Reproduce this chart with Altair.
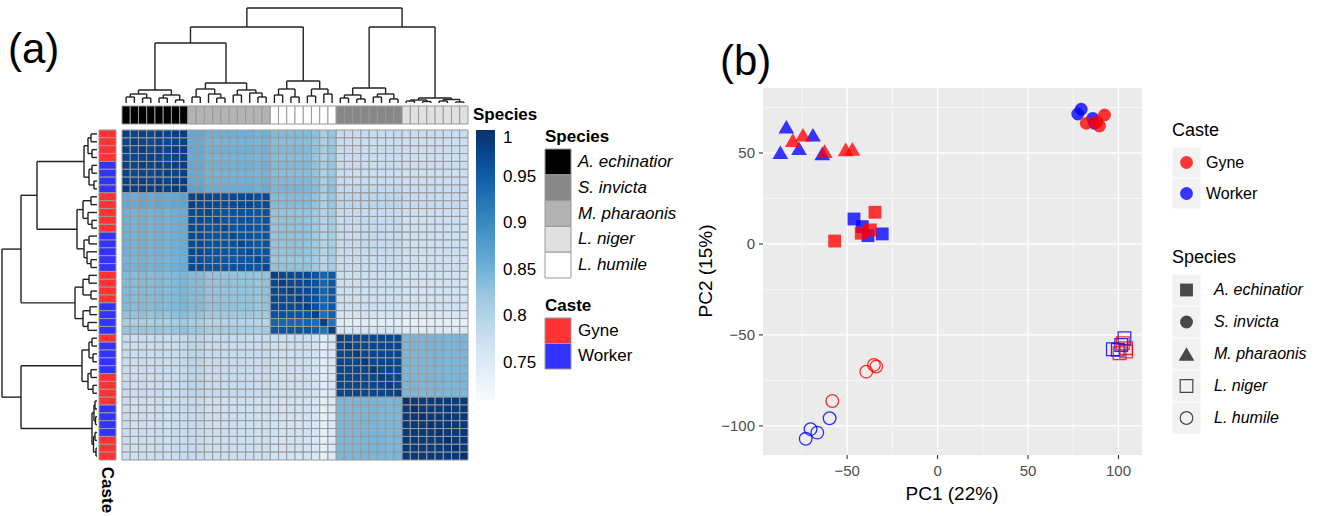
import altair as alt
import pandas as pd

FONT = "Liberation Sans"

# ---------------- data : panel (a) ----------------
SPECIES_ORDER = ["A. echinatior", "M. pharaonis", "L. humile", "S. invicta", "L. niger"]
SPECIES_N = [8, 10, 8, 8, 8]
CASTE_ROWS = [
    "Gyne", "Gyne", "Gyne", "Gyne", "Worker", "Worker", "Worker", "Worker",
    "Gyne", "Gyne", "Gyne", "Gyne", "Gyne", "Worker", "Worker", "Worker", "Worker", "Worker",
    "Gyne", "Gyne", "Gyne", "Gyne", "Worker", "Worker", "Worker", "Worker",
    "Gyne", "Worker", "Worker", "Worker", "Worker", "Gyne", "Gyne", "Gyne",
    "Gyne", "Worker", "Worker", "Worker", "Worker", "Gyne", "Gyne", "Gyne",
]
# mean correlation between species blocks (order = SPECIES_ORDER)
BLOCK_CORR = [
    [0.972, 0.848, 0.835, 0.775, 0.770],
    [0.848, 0.962, 0.828, 0.782, 0.772],
    [0.835, 0.828, 0.972, 0.772, 0.765],
    [0.775, 0.782, 0.772, 0.975, 0.845],
    [0.770, 0.772, 0.765, 0.845, 0.990],
]
# self-correlation on the diagonal is slightly darker than its block
DIAG_BONUS = 0.012
# per-sample deviation
SAMPLE_DEV = [
    0.005, 0.0, 0.005, 0.0, 0.005, 0.0, 0.005, 0.01,
    0.01, 0.01, 0.0, 0.0, 0.0, 0.0, 0.0, 0.0, -0.005, 0.0,
    0.0, 0.0, 0.0, 0.0, 0.0, -0.01, -0.03, -0.015,
    0.0, 0.0, 0.0, 0.0, 0.0, 0.0, 0.0, 0.0,
    0.0, 0.0, 0.0, 0.0, 0.0, 0.0, 0.0, 0.0,
]
# dendrogram: (height, left, right); leaves are sample indices
AE_T = (13, (9, (6, 0, 1), (5, 2, 3)), (8, (5, 4, 5), (3, 6, 7)))
MP_T = (20, (14, (6, 8, 9), (9, 10, (5, 11, 12))), (13, (8, 13, 14), (10, 15, (6, 16, 17))))
LH_T = (22, (14, (8, 18, 19), (6, 20, 21)), (14, (7, 22, 23), (9, 24, 25)))
SI_T = (15, (8, (5, 26, 27), (4, 28, 29)), (9, (6, 30, 31), (4, 32, 33)))
LN_T = (5, (3, (2, 34, 35), (1.5, 36, 37)), (3.5, (2, 38, 39), (1, 40, 41)))
TREE = (95, (76, (60, AE_T, MP_T), LH_T), (76, SI_T, LN_T))

LEG_SPECIES = ["A. echinatior", "S. invicta", "M. pharaonis", "L. niger", "L. humile"]
LEG_GREYS = ["#000000", "#878787", "#b3b3b3", "#e0e0e0", "#ffffff"]
CASTES = ["Gyne", "Worker"]
CASTE_FILL = ["#ff3333", "#3333ff"]
BLUES = ["#f7fbff", "#deebf7", "#c6dbef", "#9ecae1", "#6baed6",
         "#4292c6", "#2171b5", "#08519c", "#08306b"]
CBAR_TICKS = [0.75, 0.8, 0.85, 0.9, 0.95, 1.0]

# ---------------- data : panel (b) ----------------
PC1 = [-46.2, -41.6, -38.5, -30.6, -34.6, -42.2, -37.2, -56.9,
       77.5, 79.4, 85.8, 86.7, 82.2, 89.5, 92.3, 88.0,
       -83.6, -86.9, -76.6, -68.9, -63.7, -80.0, -74.4, -62.4, -50.8, -47.1,
       96.9, 103.3, 99.6, 101.5, 104.2, 102.4, 104.2, 100.6,
       -59.7, -70.2, -66.5, -72.9, -39.4, -35.2, -33.9, -58.2]
PC2 = [13.7, 9.5, 4.6, 5.5, 17.4, 5.9, 7.7, 1.6,
       71.4, 74.0, 69.0, 66.3, 66.3, 64.8, 70.9, 67.2,
       64.4, 50.4, 52.6, 60.0, 49.8, 57.0, 60.0, 51.0, 52.0, 52.2,
       -57.9, -51.8, -58.2, -55.5, -57.3, -54.6, -59.2, -60.1,
       -95.8, -101.8, -103.7, -107.1, -70.2, -66.5, -67.4, -86.3]
PCA_SPECIES = (["A. echinatior"] * 8 + ["S. invicta"] * 8 + ["M. pharaonis"] * 10
               + ["L. niger"] * 8 + ["L. humile"] * 8)
PCA_CASTE = (["Worker"] * 4 + ["Gyne"] * 4 + ["Worker"] * 4 + ["Gyne"] * 4
             + ["Worker"] * 5 + ["Gyne"] * 5 + ["Worker"] * 4 + ["Gyne"] * 4
             + ["Worker"] * 4 + ["Gyne"] * 4)
X_MAJOR = [-50, 0, 50, 100]
X_LABELS = ["\u221250", "0", "50", "100"]
X_MINOR = [-75, -25, 25, 75]
Y_MAJOR = [-100, -50, 0, 50]
Y_LABELS = ["\u2212100", "\u221250", "0", "50"]
Y_MINOR = [-75, -25, 25, 75]

# ---------------- derived tables ----------------
sample_species = []
for s, n in zip(SPECIES_ORDER, SPECIES_N):
    sample_species += [s] * n
NS = len(sample_species)
sp_idx = [SPECIES_ORDER.index(s) for s in sample_species]

cells = []
for i in range(NS):
    for j in range(NS):
        v = BLOCK_CORR[sp_idx[i]][sp_idx[j]] + SAMPLE_DEV[i] + SAMPLE_DEV[j]
        if i == j:
            v = min(1.0, BLOCK_CORR[sp_idx[i]][sp_idx[j]] + DIAG_BONUS)
        cells.append({"r0": i, "r1": i + 1, "c0": j, "c1": j + 1, "value": v})
heat_df = pd.DataFrame(cells)

samples_df = pd.DataFrame({
    "i0": list(range(NS)), "i1": [k + 1 for k in range(NS)],
    "species": sample_species, "caste": CASTE_ROWS,
})


def walk(node, segs):
    if isinstance(node, int):
        return node + 0.5, 0.0
    h, a, b = node
    pa, ha = walk(a, segs)
    pb, hb = walk(b, segs)
    segs.append({"p1": pa, "p2": pa, "h1": ha, "h2": h})
    segs.append({"p1": pb, "p2": pb, "h1": hb, "h2": h})
    segs.append({"p1": pa, "p2": pb, "h1": h, "h2": h})
    return (pa + pb) / 2, h


segs = []
walk(TREE, segs)
dendro_df = pd.DataFrame(segs)

pca_df = pd.DataFrame({"pc1": PC1, "pc2": PC2, "species": PCA_SPECIES, "caste": PCA_CASTE})

# ---------------- scales ----------------
COLS = alt.Scale(domain=[0, NS], range=[122, 468], nice=False, zero=False)
ROWS = alt.Scale(domain=[0, NS], range=[130, 460], nice=False, zero=False)
HT_TOP = alt.Scale(domain=[0, 95], range=[103, 8], nice=False, zero=False)
HT_LEFT = alt.Scale(domain=[0, 95], range=[97, 2], nice=False, zero=False)
lo, hi = 0.71, 1.0
blue_dom = [lo + k * (hi - lo) / (len(BLUES) - 1) for k in range(len(BLUES))]
BLUE_S = alt.Scale(domain=blue_dom, range=BLUES, interpolate="rgb")
GREY_S = alt.Scale(domain=LEG_SPECIES, range=LEG_GREYS)
CASTE_S = alt.Scale(domain=CASTES, range=CASTE_FILL)


def txt(text, x, y, size=17, weight="normal", style="normal", align="left", angle=0,
        color="black", baseline="middle"):
    return alt.Chart(alt.Data(values=[{"t": text}])).mark_text(
        font=FONT, fontSize=size, fontWeight=weight, fontStyle=style, align=align,
        baseline=baseline, angle=angle, color=color
    ).encode(text="t:N", x=alt.value(x), y=alt.value(y))


heat = alt.Chart(heat_df).mark_rect(stroke="#999999", strokeWidth=1).encode(
    x=alt.X("c0:Q", scale=COLS, axis=None), x2="c1:Q",
    y=alt.Y("r0:Q", scale=ROWS, axis=None), y2="r1:Q",
    color=alt.Color("value:Q", scale=BLUE_S, legend=alt.Legend(
        orient="none", legendX=476, legendY=130, direction="vertical",
        gradientLength=270, gradientThickness=19, gradientStrokeWidth=0,
        values=CBAR_TICKS, format=".2~f", labelFont=FONT, labelFontSize=17,
        labelColor="black", labelOffset=8, labelOverlap=False, title=None)),
)

species_bar = alt.Chart(samples_df).mark_rect(stroke="#999999", strokeWidth=1).encode(
    x=alt.X("i0:Q", scale=COLS, axis=None), x2="i1:Q",
    y=alt.value(106), y2=alt.value(124),
    color=alt.Color("species:N", scale=GREY_S, legend=None),
)
caste_bar = alt.Chart(samples_df).mark_rect(stroke="#999999", strokeWidth=1).encode(
    y=alt.Y("i0:Q", scale=ROWS, axis=None), y2="i1:Q",
    x=alt.value(99), x2=alt.value(116),
    color=alt.Color("caste:N", scale=CASTE_S, legend=None),
)
col_dendro = alt.Chart(dendro_df).mark_rule(color="#222222", strokeWidth=1.4).encode(
    x=alt.X("p1:Q", scale=COLS, axis=None), x2="p2:Q",
    y=alt.Y("h1:Q", scale=HT_TOP, axis=None), y2="h2:Q",
)
row_dendro = alt.Chart(dendro_df).mark_rule(color="#222222", strokeWidth=1.4).encode(
    y=alt.Y("p1:Q", scale=ROWS, axis=None), y2="p2:Q",
    x=alt.X("h1:Q", scale=HT_LEFT, axis=None), x2="h2:Q",
)

# annotation legends of panel (a)
sp_leg_df = pd.DataFrame({"lab": LEG_SPECIES})
SP_BAND = alt.Scale(domain=LEG_SPECIES, range=[149, 278], paddingInner=0, paddingOuter=0)
sp_leg = alt.layer(
    alt.Chart(sp_leg_df).mark_rect(stroke="#999999", strokeWidth=1).encode(
        y=alt.Y("lab:N", scale=SP_BAND, axis=None), x=alt.value(545), x2=alt.value(571),
        color=alt.Color("lab:N", scale=GREY_S, legend=None)),
    alt.Chart(sp_leg_df).mark_text(font=FONT, fontSize=17, fontStyle="italic", align="left",
                                   baseline="middle").encode(
        y=alt.Y("lab:N", scale=SP_BAND, axis=None), x=alt.value(578), text="lab:N"),
)
ca_leg_df = pd.DataFrame({"lab": CASTES})
CA_BAND = alt.Scale(domain=CASTES, range=[318, 369], paddingInner=0, paddingOuter=0)
ca_leg = alt.layer(
    alt.Chart(ca_leg_df).mark_rect(stroke="#999999", strokeWidth=1).encode(
        y=alt.Y("lab:N", scale=CA_BAND, axis=None), x=alt.value(545), x2=alt.value(571),
        color=alt.Color("lab:N", scale=CASTE_S, legend=None)),
    alt.Chart(ca_leg_df).mark_text(font=FONT, fontSize=17, align="left",
                                   baseline="middle").encode(
        y=alt.Y("lab:N", scale=CA_BAND, axis=None), x=alt.value(578), text="lab:N"),
)

# ---------------- panel (b) ----------------
XS = alt.Scale(domain=[-96.5, 113], range=[763, 1142], nice=False, zero=False)
YS = alt.Scale(domain=[-116, 85.7], range=[455, 88], nice=False, zero=False)
PT_COLOR = alt.Scale(domain=CASTES, range=["#ff0000", "#0000ff"])
SHAPES = alt.Scale(domain=LEG_SPECIES,
                   range=["square", "circle", "triangle-up", "square", "circle"])

bg = alt.Chart(alt.Data(values=[{"a": 1}])).mark_rect(color="#ebebeb").encode(
    x=alt.value(763), x2=alt.value(1142), y=alt.value(88), y2=alt.value(455))


def vgrid(vals, w):
    return alt.Chart(pd.DataFrame({"v": vals})).mark_rule(color="white", strokeWidth=w).encode(
        x=alt.X("v:Q", scale=XS, axis=None), y=alt.value(88), y2=alt.value(455))


def hgrid(vals, w):
    return alt.Chart(pd.DataFrame({"v": vals})).mark_rule(color="white", strokeWidth=w).encode(
        y=alt.Y("v:Q", scale=YS, axis=None), x=alt.value(763), x2=alt.value(1142))


filled_df = pca_df[pca_df.species.isin(["A. echinatior", "S. invicta"])]
tri_df = pca_df[pca_df.species == "M. pharaonis"]
open_df = pca_df[pca_df.species.isin(["L. niger", "L. humile"])]


def pts(df, size, filled, opacity, sw=1.0):
    return alt.Chart(df).mark_point(filled=filled, size=size, opacity=opacity, strokeWidth=sw).encode(
        x=alt.X("pc1:Q", scale=XS, axis=None),
        y=alt.Y("pc2:Q", scale=YS, axis=None),
        color=alt.Color("caste:N", scale=PT_COLOR, legend=None),
        shape=alt.Shape("species:N", scale=SHAPES, legend=None),
    )


xt_df = pd.DataFrame({"v": X_MAJOR, "lab": X_LABELS})
yt_df = pd.DataFrame({"v": Y_MAJOR, "lab": Y_LABELS})
scatter = alt.layer(
    bg,
    vgrid(X_MINOR, 0.6), hgrid(Y_MINOR, 0.6),
    vgrid(X_MAJOR, 1.3), hgrid(Y_MAJOR, 1.3),
    pts(filled_df, 165, True, 0.78),
    pts(tri_df, 250, True, 0.78),
    pts(open_df, 160, False, 0.8, 1.3),
    alt.Chart(xt_df).mark_rule(color="#333333", strokeWidth=1.1).encode(
        x=alt.X("v:Q", scale=XS, axis=None), y=alt.value(455), y2=alt.value(459)),
    alt.Chart(yt_df).mark_rule(color="#333333", strokeWidth=1.1).encode(
        y=alt.Y("v:Q", scale=YS, axis=None), x=alt.value(759), x2=alt.value(763)),
    alt.Chart(xt_df).mark_text(font=FONT, fontSize=15, color="#4d4d4d", baseline="middle").encode(
        x=alt.X("v:Q", scale=XS, axis=None), y=alt.value(471), text="lab:N"),
    alt.Chart(yt_df).mark_text(font=FONT, fontSize=15, color="#4d4d4d", align="right",
                               baseline="middle").encode(
        y=alt.Y("v:Q", scale=YS, axis=None), x=alt.value(755), text="lab:N"),
)

# legends of panel (b)
CA_KEYS = alt.Scale(domain=CASTES, range=[147, 209], paddingInner=0, paddingOuter=0)
b_ca_leg = alt.layer(
    alt.Chart(ca_leg_df).mark_rect(color="#f2f2f2", stroke="white", strokeWidth=1).encode(
        y=alt.Y("lab:N", scale=CA_KEYS, axis=None), x=alt.value(1172), x2=alt.value(1201)),
    alt.Chart(ca_leg_df).mark_point(filled=True, size=165, opacity=0.78, shape="circle").encode(
        y=alt.Y("lab:N", scale=CA_KEYS, axis=None), x=alt.value(1186.5),
        color=alt.Color("lab:N", scale=PT_COLOR, legend=None)),
    alt.Chart(ca_leg_df).mark_text(font=FONT, fontSize=16, align="left", baseline="middle").encode(
        y=alt.Y("lab:N", scale=CA_KEYS, axis=None), x=alt.value(1206), text="lab:N"),
)
SP_KEYS = alt.Scale(domain=LEG_SPECIES, range=[274, 434], paddingInner=0, paddingOuter=0)
b_sp_df = pd.DataFrame({"lab": LEG_SPECIES})
b_sp_leg = alt.layer(
    alt.Chart(b_sp_df).mark_rect(color="#f2f2f2", stroke="white", strokeWidth=1).encode(
        y=alt.Y("lab:N", scale=SP_KEYS, axis=None), x=alt.value(1172), x2=alt.value(1201)),
    alt.Chart(b_sp_df[b_sp_df.lab.isin(["A. echinatior", "S. invicta"])]).mark_point(
        filled=True, size=165, color="black").encode(
        y=alt.Y("lab:N", scale=SP_KEYS, axis=None), x=alt.value(1186.5),
        shape=alt.Shape("lab:N", scale=SHAPES, legend=None)),
    alt.Chart(b_sp_df[b_sp_df.lab == "M. pharaonis"]).mark_point(
        filled=True, size=250, color="black").encode(
        y=alt.Y("lab:N", scale=SP_KEYS, axis=None), x=alt.value(1186.5),
        shape=alt.Shape("lab:N", scale=SHAPES, legend=None)),
    alt.Chart(b_sp_df[b_sp_df.lab.isin(["L. niger", "L. humile"])]).mark_point(
        filled=False, size=160, color="black", strokeWidth=1.2).encode(
        y=alt.Y("lab:N", scale=SP_KEYS, axis=None), x=alt.value(1186.5),
        shape=alt.Shape("lab:N", scale=SHAPES, legend=None)),
    alt.Chart(b_sp_df).mark_text(font=FONT, fontSize=16, fontStyle="italic", align="left",
                                 baseline="middle").encode(
        y=alt.Y("lab:N", scale=SP_KEYS, axis=None), x=alt.value(1214), text="lab:N"),
)

texts = [
    txt("(a)", 8, 50, size=42),
    txt("(b)", 720, 62, size=42),
    txt("Species", 473, 115, size=17, weight="bold"),
    txt("Species", 545, 137, size=17, weight="bold"),
    txt("Caste", 545, 306, size=17, weight="bold"),
    txt("Caste", 107, 490, size=17, weight="bold", align="center", angle=90),
    txt("PC1 (22%)", 952, 494, size=19, align="center"),
    txt("PC2 (15%)", 706, 271, size=19, align="center", angle=270),
    txt("Caste", 1172, 131, size=18),
    txt("Species", 1172, 258, size=18),
]

chart = alt.layer(
    heat, species_bar, caste_bar, col_dendro, row_dendro, sp_leg, ca_leg,
    scatter, b_ca_leg, b_sp_leg, *texts
).resolve_scale(
    x="independent", y="independent", color="independent", shape="independent"
).resolve_legend(color="independent").properties(
    width=1334, height=516, padding=0, autosize=alt.AutoSizeParams(type="none"),
    background="white"
).configure_view(stroke=None)

chart.save("out.html", embed_options={"renderer": "svg", "actions": False})
